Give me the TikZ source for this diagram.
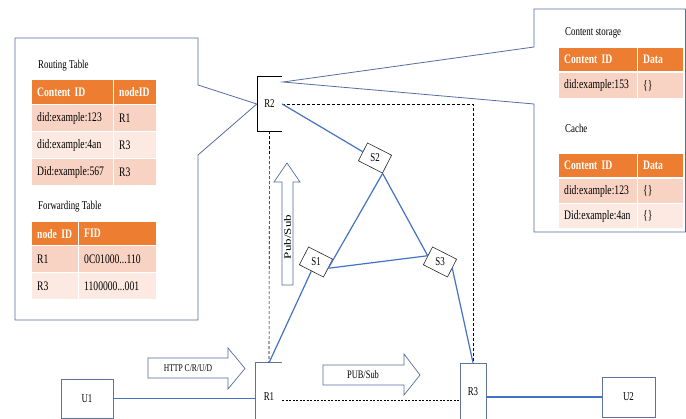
\documentclass[tikz,border=0pt]{standalone}
\usepackage{fontspec}
\setmainfont{Liberation Serif}[FakeStretch=0.74]
\newfontfamily\plainserif{Liberation Serif}
\usetikzlibrary{calc}
\definecolor{cbord}{RGB}{84,110,160}
\definecolor{linkblue}{RGB}{68,114,196}
\definecolor{boxline}{RGB}{95,115,155}
\definecolor{hdrorange}{RGB}{237,125,49}
\definecolor{rowdark}{RGB}{248,211,195}
\definecolor{rowlight}{RGB}{252,233,225}
\begin{document}
\begin{tikzpicture}[x=1pt,y=-1pt,
  callout/.style={draw=cbord, line width=0.8pt, fill=white, line join=miter},
  link/.style={draw=linkblue, line width=1.2pt},
  dashrect/.style={draw=black, line width=0.6pt, dash pattern=on 3pt off 2pt},
  dotline/.style={draw=black, line width=0.8pt, dash pattern=on 2pt off 1.5pt},
  hd/.style={anchor=north west, fill=hdrorange, text=white, font=\fontsize{13}{15}\selectfont\bfseries, inner xsep=5pt, inner ysep=0pt, align=left},
  dk/.style={anchor=north west, fill=rowdark, font=\fontsize{13}{15}\selectfont, inner xsep=5pt, inner ysep=0pt, align=left},
  lt/.style={dk, fill=rowlight},
  ttl/.style={anchor=west, font=\fontsize{12}{14}\selectfont, inner sep=0pt},
  lbl/.style={font=\fontsize{12}{14}\selectfont, inner sep=0pt},
  sbox/.style={draw=black!85, line width=0.6pt, fill=white, minimum width=27pt, minimum height=20pt, inner sep=0pt},
  ubox/.style={draw=boxline, line width=0.7pt, inner sep=0pt, font=\fontsize{12}{14}\selectfont},
  barrow/.style={draw=cbord, line width=0.7pt, fill=white, line join=miter},
]
\useasboundingbox (0,0) rectangle (686,419);
\fill[white] (0,0) rectangle (686,419);
\clip (0,0) rectangle (686,419);

% R2 router
\node[lbl, minimum width=25pt, minimum height=54pt] (R2) at (269.5,104) {R2};
\coordinate (tipR) at (283,82);

% callouts
\draw[callout] (198,155) -- (198,320) -- (15,320) -- (15,38) -- (198,38) -- (198,85) -- (R2.west) -- cycle;
\draw[callout] (534,104) -- (534,232) -- (685.5,232) -- (685.5,9) -- (534,9) -- (534,47) -- (tipR) -- cycle;

\draw[line width=0.6pt] (R2.north west) -- (R2.south west) -- (R2.south east);
\draw[line width=1.2pt] (R2.north west) -- (R2.north east);

% Routing table
\node[ttl] (rtt) at (38,66) {Routing Table};
\node[hd, text width=71pt, minimum height=24pt] (rth1) at (32,80) {Content ID};
\node[hd, text width=32pt, minimum height=24pt] (rth2) at (114,80) {nodeID};
\node[dk, text width=71pt, minimum height=26pt] (rt11) at (32,105) {did:example:123};
\node[dk, text width=32pt, minimum height=26pt] (rt12) at (114,105) {R1};
\node[lt, text width=71pt, minimum height=26pt] (rt21) at (32,132) {did:example:4an};
\node[lt, text width=32pt, minimum height=26pt] (rt22) at (114,132) {R3};
\node[dk, text width=71pt, minimum height=26pt] (rt31) at (32,159) {Did:example:567};
\node[dk, text width=32pt, minimum height=26pt] (rt32) at (114,159) {R3};

% Forwarding table
\node[ttl] (ftt) at (38,207) {Forwarding Table};
\node[hd, text width=36pt, minimum height=23pt] (fth1) at (32,222) {node ID};
\node[hd, text width=67pt, minimum height=23pt] (fth2) at (79,222) {FID};
\node[dk, text width=36pt, minimum height=26pt] (ft11) at (32,246) {R1};
\node[dk, text width=67pt, minimum height=26pt] (ft12) at (79,246) {0C01000...110};
\node[lt, text width=36pt, minimum height=26pt] (ft21) at (32,273) {R3};
\node[lt, text width=67pt, minimum height=26pt] (ft22) at (79,273) {1100000...001};

% Content storage
\node[ttl] (cst) at (565,33) {Content storage};
\node[hd, text width=68pt, minimum height=23pt] (csh1) at (559,48) {Content ID};
\node[hd, text width=35pt, minimum height=23pt] (csh2) at (638,48) {Data};
\node[dk, text width=68pt, minimum height=25pt] (cs11) at (559,73) {did:example:153};
\node[dk, text width=35pt, minimum height=25pt] (cs12) at (638,73) {\{\}};

% Cache
\node[ttl] (cat) at (565,128) {Cache};
\node[hd, text width=68pt, minimum height=23pt] (cah1) at (559,154) {Content ID};
\node[hd, text width=35pt, minimum height=23pt] (cah2) at (638,154) {Data};
\node[dk, text width=68pt, minimum height=24pt] (ca11) at (559,179) {did:example:123};
\node[dk, text width=35pt, minimum height=24pt] (ca12) at (638,179) {\{\}};
\node[lt, text width=68pt, minimum height=24pt] (ca21) at (559,204) {Did:example:4an};
\node[lt, text width=35pt, minimum height=24pt] (ca22) at (638,204) {\{\}};

% Routers and users
\node[lbl, minimum width=26pt, minimum height=68pt] (R1) at (269,397) {R1};
\draw[boxline, line width=0.7pt] (R1.south west) -- (R1.north west) -- (R1.north east);
\node[ubox, minimum width=26pt, minimum height=57pt] (R3) at (473,391.5) {R3};
\node[ubox, minimum width=52pt, minimum height=39pt] (U1) at (87,398.5) {U1};
\node[ubox, minimum width=53pt, minimum height=40pt] (U2) at (628.5,397) {U2};

% switches
\node[sbox, rotate=-27] (S2) at (375,158) {};
\node[lbl] (S2t) at (S2.center) {S2};
\node[sbox, rotate=-27] (S1) at (316,262) {};
\node[lbl] (S1t) at (S1.center) {S1};
\node[sbox, rotate=-27] (S3) at (440,262) {};
\node[lbl] (S3t) at (S3.center) {S3};

% dashed rectangle
\draw[dashrect] (R2.south) -- (R1.north);
\draw[dashrect] (R2.east) -- (R2.east -| R3.north) -- (R3.north);

% blue links
\draw[link] (R2.east) -- (S2.west);
\draw[link] (S2.south east) -- (S1.east);
\draw[link] (S2.south east) -- (S3.west);
\draw[link] (S1.east) -- (S3.west);
\draw[link] (S1.south) -- (R1.north);
\draw[link] (S3.east) -- (R3.north);
\draw[link] (U1.east) -- (U1.east -| R1.west);
\draw[link] (R3.east |- U2.west) -- (U2.west);

% dotted R1-R3
\draw[dotline] ($(R1.east)+(0,3)$) -- ($(R1.east -| R3.west)+(0,3)$);

% block arrows
\draw[barrow] (148,358) -- (228,358) -- (228,348) -- (245,368.5) -- (228,389) -- (228,378) -- (148,378) -- cycle;
\node[font=\fontsize{10.3}{12}\selectfont, inner sep=0pt] (httpT) at (188,368) {HTTP C/R/U/D};
\draw[barrow] (323,365) -- (404,365) -- (404,354) -- (420,375) -- (404,395) -- (404,385) -- (323,385) -- cycle;
\node[font=\fontsize{11.4}{13}\selectfont, inner sep=0pt] (pubT) at (363,375) {PUB/Sub};
\draw[barrow] (282,285) -- (282,182) -- (274,182) -- (287,163) -- (300,182) -- (293,182) -- (293,285) -- cycle;
\node[rotate=90, inner sep=0pt, font=\plainserif\fontsize{13}{15}\selectfont] (psT) at (287.5,237) {\scalebox{1}[0.75]{Pub/Sub}};
\end{tikzpicture}
\end{document}
